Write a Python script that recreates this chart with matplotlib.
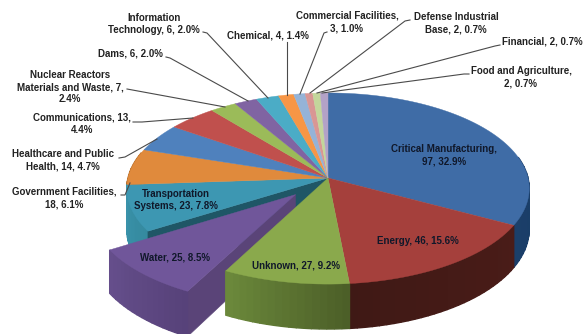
import numpy as np
import matplotlib
matplotlib.use('Agg')
import matplotlib.pyplot as plt
from matplotlib.colors import to_rgb
from matplotlib.patches import Polygon

plt.rcParams['font.family'] = ['Liberation Sans', 'DejaVu Sans']

sectors = ['Critical Manufacturing', 'Energy', 'Unknown', 'Water', 'Transportation Systems',
           'Government Facilities', 'Healthcare and Public Health', 'Communications',
           'Nuclear Reactors Materials and Waste', 'Dams', 'Information Technology', 'Chemical',
           'Commercial Facilities', 'Defense Industrial Base', 'Financial', 'Food and Agriculture']
incidents = [97, 46, 27, 25, 23, 18, 14, 13, 7, 6, 6, 4, 3, 2, 2, 2]
labels = ['Critical Manufacturing,\n97, 32.9%', 'Energy, 46, 15.6%', 'Unknown, 27, 9.2%',
          'Water, 25, 8.5%', 'Transportation\nSystems, 23, 7.8%', 'Government Facilities,\n18, 6.1%',
          'Healthcare and Public\nHealth, 14, 4.7%', 'Communications, 13,\n4.4%',
          'Nuclear Reactors\nMaterials and Waste, 7,\n2.4%', 'Dams, 6, 2.0%',
          'Information\nTechnology, 6, 2.0%', 'Chemical, 4, 1.4%', 'Commercial Facilities,\n3, 1.0%',
          'Defense Industrial\nBase, 2, 0.7%', 'Financial, 2, 0.7%', 'Food and Agriculture,\n2, 0.7%']

top_colors = ['#3f6ca6', '#a5403c', '#8aa94c', '#70569a', '#3d97b2', '#e08a3c', '#4f81bd', '#c0504d',
              '#9bbb59', '#8064a2', '#4bacc6', '#f79646', '#95b3d7', '#d99694', '#c3d69b', '#b3a2c7']
side_from = ['#17375e', '#4a1c18', '#4c5f28', '#57427a', '#358a9f', '#b06a28', '#375f8f', '#8c3836',
             '#71893f', '#5f4a7d', '#358a9f', '#b06a28', '#6a86a8', '#a06e6c', '#8fa070', '#8577a0']
side_to = ['#1b3f6a', '#3f1915', '#6d8b3c', '#664f8c', '#3a93ab', '#b06a28', '#375f8f', '#8c3836',
           '#71893f', '#5f4a7d', '#358a9f', '#b06a28', '#6a86a8', '#a06e6c', '#8fa070', '#8577a0']

label_pos = [(444, 155), (418, 241), (296, 265), (175, 258), (176, 200), (64, 198), (63, 160), (82, 124),
             (70, 87), (130, 54), (154, 24), (268, 36), (347, 22), (456, 23), (542, 42), (521, 77)]
leaders = [None, None, None, None, None,
           [(121, 195), (125, 195), (130, 183)],
           [(119, 158), (125, 157), (157, 139)],
           [(133, 122), (142, 122), (193, 118)],
           [(127, 89), (225, 107)],
           [(166, 57), (170, 58), (248, 101)],
           [(203, 32), (207, 33), (268, 98)],
           [(287, 42), (287, 95)],
           [(327, 32), (324, 33), (300, 94)],
           [(410, 20), (405, 21), (310, 93)],
           [(500, 45), (495, 46), (317, 93)],
           [(469, 74), (464, 74), (322, 93)]]

# perspective view of the disc
cx, cy = 328, 178
rx, ry = 200, 94.4
k = 0.11
depth = 40
exploded = 3
explode_dist = 0.235


def project(u, v, drop=0.0):
    w = 1 + k * v
    return cx + rx * u / w, cy - ry * v / w + drop / w


def arc(a0, a1, off):
    t = np.radians(np.linspace(a0, a1, max(int(abs(a1 - a0)) * 2, 4)))
    return np.sin(t) + off[0], np.cos(t) + off[1]


def draw_sides(ax, i, a0, a1, off):
    # outer rim, cut into strips so the shade can run along it
    t = np.linspace(a0, a1, max(int((a1 - a0) / 2) + 2, 3))
    c0, c1 = np.array(to_rgb(side_from[i])), np.array(to_rgb(side_to[i]))
    for j in range(len(t) - 1):
        if np.cos(np.radians(t[j])) > 0.25:
            continue
        u, v = arc(t[j], t[j + 1], off)
        xt, yt = project(u, v)
        xb, yb = project(u, v, depth)
        pts = np.r_[np.c_[xt, yt], np.c_[xb, yb][::-1]]
        color = c0 + (c1 - c0) * j / (len(t) - 1)
        ax.add_patch(Polygon(pts, fc=color, ec=color, lw=1.0))


def draw_cut(ax, angle, off, color):
    # flat face along a slice edge, hub to rim
    r = np.radians(angle)
    u = np.array([off[0], np.sin(r) + off[0]])
    v = np.array([off[1], np.cos(r) + off[1]])
    xt, yt = project(u, v)
    xb, yb = project(u, v, depth)
    pts = [(xt[0], yt[0]), (xt[1], yt[1]), (xb[1], yb[1]), (xb[0], yb[0])]
    ax.add_patch(Polygon(pts, fc=color, ec=color, lw=0.4))


def draw_top(ax, i, a0, a1, off):
    u, v = arc(a0, a1, off)
    x, y = project(np.r_[off[0], u], np.r_[off[1], v])
    ax.add_patch(Polygon(np.c_[x, y], fc=top_colors[i], ec=top_colors[i], lw=0.3))


fig = plt.figure(figsize=(5.84, 3.34), dpi=100)
ax = fig.add_axes([0, 0, 1, 1])
ax.set_xlim(0, 584)
ax.set_ylim(334, 0)
ax.axis('off')

shares = np.array(incidents) / sum(incidents)
edges = np.r_[0, np.cumsum(shares)] * 360
no_offset = (0.0, 0.0)
mids = np.radians((edges[:-1] + edges[1:]) / 2)

back = [i for i in range(len(incidents)) if i not in (2, exploded)]
# rims furthest from the viewer go down first
for i in sorted(back, key=lambda n: -np.cos(mids[n])):
    draw_sides(ax, i, edges[i], edges[i + 1], no_offset)
draw_cut(ax, edges[exploded + 1], no_offset, '#1f5666')
for i in back:
    draw_top(ax, i, edges[i], edges[i + 1], no_offset)

# the pulled out slice sits over its back neighbours, under Unknown
off = (explode_dist * np.sin(mids[exploded]), explode_dist * np.cos(mids[exploded]))
draw_cut(ax, edges[exploded], off, '#5a4478')
draw_sides(ax, exploded, edges[exploded], edges[exploded + 1], off)
draw_top(ax, exploded, edges[exploded], edges[exploded + 1], off)

draw_sides(ax, 2, edges[2], edges[3], no_offset)
draw_top(ax, 2, edges[2], edges[3], no_offset)

for i, text in enumerate(labels):
    x, y = label_pos[i]
    color = '#10182a' if i < 5 else '#222222'
    ax.text(x, y, text, ha='center', va='center', fontsize=7.0, fontweight='bold',
            color=color, linespacing=1.3)
    if leaders[i]:
        xs, ys = zip(*leaders[i])
        ax.plot(xs, ys, color='#4a4a4a', lw=0.8)

fig.savefig('out.png', dpi=100)
